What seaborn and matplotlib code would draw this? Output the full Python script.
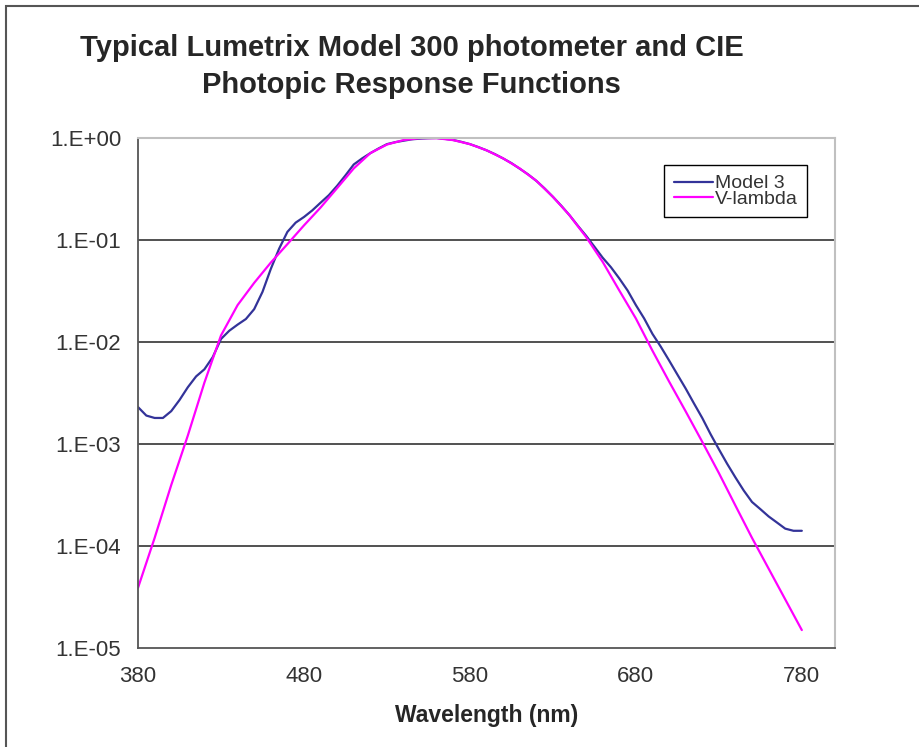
import numpy as np
import pandas as pd
import matplotlib
matplotlib.use('Agg')
import matplotlib.pyplot as plt
import seaborn as sns
from matplotlib.ticker import FixedLocator, FuncFormatter
from matplotlib.patches import Rectangle

# CIE photopic V-lambda, 10 nm steps
vl_nm = [380, 390, 400, 410, 420, 430, 440, 450, 460, 470, 480, 490, 500,
         510, 520, 530, 540, 550, 560, 570, 580, 590, 600, 610, 620, 630,
         640, 650, 660, 670, 680, 690, 700, 710, 720, 730, 740, 750, 760,
         770, 780]
vl_resp = [0.000039, 0.00012, 0.000396, 0.00121, 0.004, 0.0116, 0.023, 0.038,
           0.06, 0.091, 0.139, 0.208, 0.323, 0.503, 0.71, 0.862, 0.954, 0.995,
           0.995, 0.952, 0.87, 0.757, 0.631, 0.503, 0.381, 0.265, 0.175, 0.107,
           0.061, 0.032, 0.017, 0.00821, 0.0041, 0.00209, 0.00105, 0.00052,
           0.000249, 0.00012, 0.00006, 0.00003, 0.000015]

# Model 3 photometer, 5 nm steps
m3_nm = list(range(380, 785, 5))
m3_resp = [0.0023, 0.0019, 0.0018, 0.0018, 0.0021, 0.0027, 0.0036, 0.0046,
           0.0054, 0.0071, 0.0107, 0.0129, 0.0148, 0.0168, 0.021, 0.031,
           0.052, 0.082, 0.12, 0.148, 0.168, 0.195, 0.232, 0.275, 0.34,
           0.43, 0.55, 0.63, 0.71, 0.79, 0.87, 0.91, 0.94, 0.97, 0.985,
           0.995, 1.0, 0.98, 0.955, 0.915, 0.87, 0.815, 0.757, 0.695, 0.63,
           0.567, 0.50, 0.44, 0.38, 0.32, 0.265, 0.217, 0.175, 0.138, 0.11,
           0.086, 0.067, 0.054, 0.042, 0.032, 0.023, 0.017, 0.012, 0.009,
           0.0066, 0.0048, 0.0035, 0.0025, 0.0018, 0.00125, 0.00089, 0.00064,
           0.00047, 0.00035, 0.00027, 0.00023, 0.000195, 0.00017, 0.000148,
           0.000141, 0.000141]

x_ticks = [380, 480, 580, 680, 780]
y_ticks = [1e-5, 1e-4, 1e-3, 1e-2, 1e-1, 1e0]

series_colors = {'Model 3': '#333399', 'V-lambda': '#ff00ff'}

df = pd.concat([
    pd.DataFrame({'nm': m3_nm, 'resp': m3_resp, 'series': 'Model 3'}),
    pd.DataFrame({'nm': vl_nm, 'resp': vl_resp, 'series': 'V-lambda'}),
], ignore_index=True)

sns.set_style('white')
plt.rcParams['font.family'] = ['Liberation Sans', 'DejaVu Sans']

fig = plt.figure(figsize=(9.19, 7.47), dpi=100)
ax = fig.add_axes([0.1502, 0.1325, 0.7584, 0.6828])

sns.lineplot(data=df, x='nm', y='resp', hue='series', palette=series_colors,
             estimator=None, sort=False, linewidth=1.6, ax=ax)
ax.set_yscale('log')
ax.set_xlim(380, 800)
ax.set_ylim(1e-5, 1)

ax.xaxis.set_major_locator(FixedLocator(x_ticks))
ax.yaxis.set_major_locator(FixedLocator(y_ticks))
ax.yaxis.set_minor_locator(FixedLocator([]))
ax.yaxis.set_major_formatter(FuncFormatter(lambda v, p: '1.E%+03d' % round(np.log10(v))))

for v in y_ticks[1:-1]:
    ax.axhline(v, color='#333333', linewidth=1.2, zorder=0.5)

ax.tick_params(axis='both', direction='out', length=6, width=1.2,
               colors='#555555', labelcolor='#333333', labelsize=16)
ax.tick_params(axis='x', pad=7)
ax.tick_params(axis='y', pad=6)

for s in ['left', 'bottom']:
    ax.spines[s].set_color('#555555')
    ax.spines[s].set_linewidth(1.3)
for s in ['top', 'right']:
    ax.spines[s].set_color('#c0c0c0')
    ax.spines[s].set_linewidth(1.5)

ax.set_xlabel('Wavelength (nm)', fontsize=16.5, fontweight='bold', labelpad=12)
ax.set_ylabel('')

handles, labels = ax.get_legend_handles_labels()
leg = ax.legend(handles, labels, loc='upper right', bbox_to_anchor=(0.96, 0.947),
                borderaxespad=0, fontsize=14, frameon=True, fancybox=False,
                edgecolor='black', framealpha=1, labelspacing=-0.12,
                handlelength=2.0, handletextpad=0.1, borderpad=0.5)
leg.get_frame().set_linewidth(1.0)
for t in leg.get_texts():
    t.set_color('#333333')

fig.text(0.448, 0.911, 'Typical Lumetrix Model 300 photometer and CIE\nPhotopic Response Functions',
         ha='center', va='center', multialignment='center', fontsize=21,
         fontweight='bold', linespacing=1.42)

fig.patches.append(Rectangle((6 / 919, -0.05), 1.1, 1 - 6 / 747 + 0.05,
                             transform=fig.transFigure, fill=False,
                             edgecolor='#555555', linewidth=1.5))

fig.savefig('out.png', dpi=100)
